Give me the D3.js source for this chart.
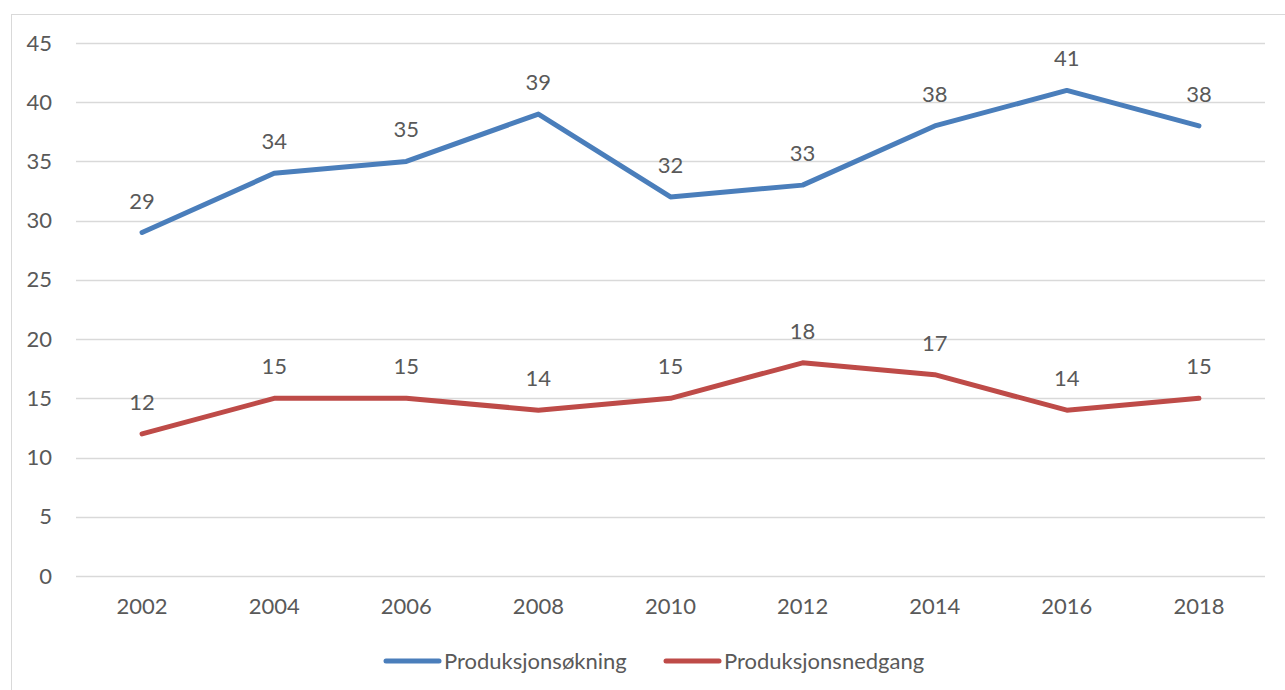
<!DOCTYPE html>
<html>
<head>
<meta charset="utf-8">
<script src="https://cdn.jsdelivr.net/npm/d3@7"></script>
<style>
  body { margin: 0; background: #fff; }
  text { font-family: Lato, "Open Sans", sans-serif; fill: #595959; }
</style>
</head>
<body>
<div id="chart"></div>
<script>
// chart data
var years = ["2002", "2004", "2006", "2008", "2010", "2012", "2014", "2016", "2018"];
var okning = [29, 34, 35, 39, 32, 33, 38, 41, 38];
var nedgang = [12, 15, 15, 14, 15, 18, 17, 14, 15];
var yTicks = [0, 5, 10, 15, 20, 25, 30, 35, 40, 45];
var seriesNames = ["Produksjonsøkning", "Produksjonsnedgang"];
var colors = ["#4a7ebb", "#be4b48"];

var svgWidth = 1285, svgHeight = 690;
var margin = { top: 43, right: 20, bottom: 114, left: 76 };
var width = 1265 - margin.left;
var height = svgHeight - margin.top - margin.bottom;

var svg = d3.select("#chart").append("svg")
    .attr("width", svgWidth)
    .attr("height", svgHeight);

// outer frame
svg.append("rect")
    .attr("x", 11.5).attr("y", 14.5)
    .attr("width", 1300).attr("height", 700)
    .attr("fill", "none")
    .attr("stroke", "#d9d9d9")
    .attr("stroke-width", 1);

var g = svg.append("g")
    .attr("transform", `translate(${margin.left}, ${margin.top})`);

var x = d3.scaleBand().domain(years).range([0, width]);
var y = d3.scaleLinear().domain([0, 45]).range([height, 0]);

// gridlines
g.selectAll(".grid")
    .data(yTicks)
    .enter().append("line")
    .attr("x1", 0).attr("x2", width)
    .attr("y1", d => Math.round(y(d)) + 0.5)
    .attr("y2", d => Math.round(y(d)) + 0.5)
    .attr("stroke", "#d9d9d9")
    .attr("stroke-width", 1.3);

// y axis labels
var yAxis = d3.axisLeft(y).tickValues(yTicks).tickSize(0).tickPadding(24);
g.append("g").call(yAxis)
    .call(s => s.select(".domain").remove())
    .selectAll("text")
    .style("font-size", "22px")
    .attr("fill", "#595959");

// x axis labels
var xAxis = d3.axisBottom(x).tickSize(0).tickPadding(22);
g.append("g")
    .attr("transform", `translate(0, ${height})`)
    .call(xAxis)
    .call(s => s.select(".domain").remove())
    .selectAll("text")
    .style("font-size", "22px")
    .attr("fill", "#595959");

var line = d3.line()
    .x((d, i) => x(years[i]) + x.bandwidth() / 2)
    .y(d => y(d));

[okning, nedgang].forEach(function(vals, k) {
    g.append("path")
        .datum(vals)
        .attr("d", line)
        .attr("fill", "none")
        .attr("stroke", colors[k])
        .attr("stroke-width", 5)
        .attr("stroke-linecap", "round")
        .attr("stroke-linejoin", "round");

    g.selectAll(".lbl" + k)
        .data(vals)
        .enter().append("text")
        .attr("x", (d, i) => x(years[i]) + x.bandwidth() / 2)
        .attr("y", d => y(d) - 24)
        .attr("text-anchor", "middle")
        .style("font-size", "22px")
        .text(d => d);
});

// legend
var legendX = [384, 664];
seriesNames.forEach(function(name, k) {
    var lg = svg.append("g").attr("transform", `translate(${legendX[k]}, 661)`);
    lg.append("line")
        .attr("x1", 2).attr("x2", 55)
        .attr("y1", 0).attr("y2", 0)
        .attr("stroke", colors[k])
        .attr("stroke-width", 5)
        .attr("stroke-linecap", "round");
    lg.append("text")
        .attr("x", 60).attr("y", 8)
        .style("font-size", "22px")
        .text(name);
});
</script>
</body>
</html>
